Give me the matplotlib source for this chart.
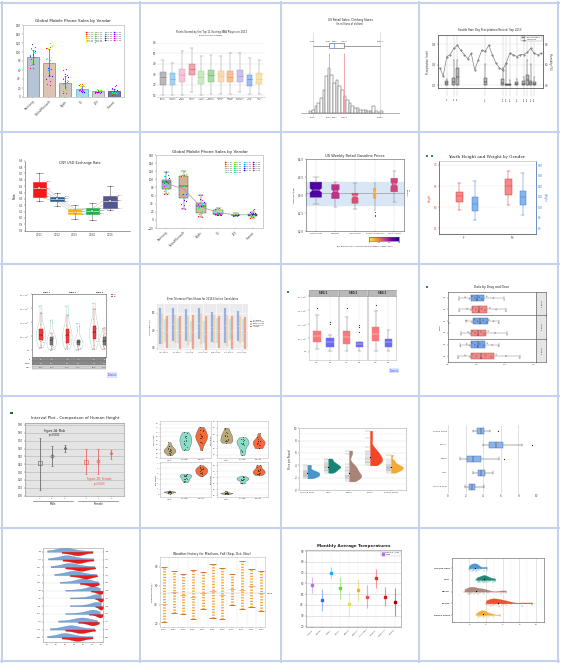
import numpy as np
import matplotlib
matplotlib.use('Agg')
import matplotlib.pyplot as plt
from matplotlib.lines import Line2D
from matplotlib.patches import Rectangle, Patch
from matplotlib import colors as mcolors

plt.rcParams['font.family'] = ['DejaVu Sans']
plt.rcParams['axes.linewidth'] = 0.4
plt.rcParams['xtick.major.width'] = 0.3
plt.rcParams['ytick.major.width'] = 0.3
plt.rcParams['xtick.major.size'] = 1.0
plt.rcParams['ytick.major.size'] = 1.0
plt.rcParams['xtick.major.pad'] = 0.6
plt.rcParams['ytick.major.pad'] = 0.6
plt.rcParams['xtick.labelsize'] = 2.0
plt.rcParams['ytick.labelsize'] = 2.0
plt.rcParams['axes.labelsize'] = 2.0
plt.rcParams['axes.labelpad'] = 1
plt.rcParams['axes.edgecolor'] = '#555555'
plt.rcParams['xtick.color'] = '#444444'
plt.rcParams['ytick.color'] = '#444444'
plt.rcParams['text.color'] = '#222222'
plt.rcParams['axes.labelcolor'] = '#222222'

# ===================== DATA =====================
# A / F : global mobile phone sales (millions) by quarter
vendors = ['Samsung', 'Nokia/Microsoft', 'Apple', 'LG', 'ZTE', 'Huawei']
quarters = ["Q1 '10", "Q2 '10", "Q3 '10", "Q4 '10", "Q1 '11", "Q2 '11", "Q3 '11", "Q4 '11",
            "Q1 '12", "Q2 '12", "Q3 '12", "Q4 '12", "Q1 '13", "Q2 '13", "Q3 '13", "Q4 '13",
            "Q1 '14", "Q2 '14", "Q3 '14", "Q4 '14", "Q1 '15", "Q2 '15"]
samsung_sales = [65, 64, 71, 76, 68, 70, 78, 97, 87, 94, 98, 107, 100, 108, 111, 117, 103, 95, 92, 93, 84, 90]
nokia_sales = [108, 111, 110, 120, 108, 89, 106, 113, 83, 84, 83, 86, 62, 61, 63, 64, 47, 50, 40, 36, 30, 27]
apple_sales = [9, 8, 14, 16, 17, 20, 17, 35, 33, 29, 23, 43, 38, 31, 34, 51, 44, 35, 39, 62, 61, 48]
lg_sales = [27, 30, 28, 27, 25, 24, 21, 17, 14, 13, 14, 16, 15, 17, 12, 13, 12, 12, 15, 16, 15, 14]
zte_sales = [10, 11, 12, 13, 14, 16, 17, 16, 15, 13, 12, 13, 12, 10, 10, 11, 11, 11, 12, 11, 11, 12]
huawei_sales = [5, 6, 7, 8, 9, 10, 10, 11, 12, 11, 11, 12, 11, 10, 11, 14, 16, 17, 20, 24, 18, 26]

# B : NBA points per game (box summaries)
nba_players = ['Kevin\nDurant', 'Carmelo\nAnthony', 'Kobe\nBryant', 'LeBron\nJames', 'James\nHarden',
               'Russell\nWestbrook', 'Stephen\nCurry', 'Dwyane\nWade', 'LaMarcus\nAldridge',
               'Kyrie\nIrving', 'Monta\nEllis']
nba_q1 = [19.3, 19.9, 22.3, 29.1, 20.8, 23.0, 22.3, 22.3, 22.3, 18.6, 20.8]
nba_med = [27.0, 25.4, 29.1, 35.0, 27.0, 29.1, 27.9, 27.0, 27.9, 25.4, 25.4]
nba_q3 = [32.2, 31.0, 34.7, 40.0, 33.1, 34.0, 33.1, 33.1, 34.0, 29.1, 31.6]
nba_lo = [10.0, 10.0, 10.0, 13.0, 10.0, 11.5, 11.5, 11.5, 13.0, 11.5, 11.5]
nba_hi = [44.0, 40.9, 51.7, 55.4, 47.0, 48.6, 47.0, 50.1, 50.1, 45.5, 44.0]

# C : clothing store sales histogram
clothing_bin_start = 6000
clothing_bin_width = 400
clothing_counts = [1, 2, 4, 6, 9, 14, 22, 27, 23, 18, 20, 16, 14, 10, 8, 6, 4, 3, 3, 2, 2, 2, 1, 1, 4, 1, 0, 1]
clothing_summary = [6500, 9000, 9800, 11300, 16800]   # min, q1, median, q3, max

# D : Seattle September 2013
sea_days = list(range(1, 31))
sea_humidity = [57, 49, 68, 70, 76, 79, 74, 70, 66, 71, 55, 65, 74, 73, 79,
                70, 62, 57, 55, 62, 71, 70, 68, 70, 70, 72, 76, 71, 70, 71]
rain_days = [3, 5, 6, 14, 19, 20, 21, 23, 25, 26, 27, 28]
rain_q1 = [0.006, 0.006, 0.006, 0.0, 0.0, 0.0, 0.0, 0.0, 0.0, 0.0, 0.0, 0.0]
rain_med = [0.02, 0.03, 0.08, 0.03, 0.02, 0.005, 0.005, 0.01, 0.01, 0.05, 0.02, 0.01]
rain_q3 = [0.04, 0.07, 0.17, 0.07, 0.065, 0.015, 0.015, 0.03, 0.04, 0.10, 0.04, 0.03]
rain_hi = [0.06, 0.25, 0.25, 0.21, 0.17, 0.21, 0.05, 0.06, 0.08, 0.25, 0.21, 0.08]

# E : CNY / USD
cny_years = [2011, 2012, 2013, 2014, 2015]
cny_q1 = [6.33, 6.26, 6.06, 6.07, 6.15]
cny_med = [6.47, 6.30, 6.10, 6.11, 6.27]
cny_q3 = [6.57, 6.33, 6.14, 6.15, 6.35]
cny_lo = [6.27, 6.19, 5.98, 5.97, 6.12]
cny_hi = [6.70, 6.39, 6.20, 6.23, 6.51]

# G : gasoline prices
gas_regions = ['East Coast', 'Midwest', 'Gulf Coast', 'Rocky Mountain', 'West Coast']
gas_q1 = [2.94, 2.90, 2.77, 2.91, 3.09]
gas_med = [3.13, 3.10, 2.96, 3.08, 3.30]
gas_q3 = [3.36, 3.29, 3.05, 3.19, 3.47]
gas_lo = [2.76, 2.66, 2.60, 2.58, 2.81]
gas_hi = [3.50, 3.37, 3.33, 3.33, 3.68]
gas_ci = [0.06, 0.06, 0.05, 0.05, 0.06]
gas_outliers = [[], [], [], [2.52, 2.45, 2.40], []]
gas_counts = [520, 340, 280, 120, 300]
gas_band = [2.73, 3.37]
gas_mean = 3.05

# H : youth height & weight
height_f = [57.0, 57.3, 59.4, 60.5, 61.2, 61.7, 62.0, 62.3, 62.5, 62.8, 63.0, 63.2, 63.5, 63.7, 64.2, 64.8, 65.3, 65.8]
height_m = [56.5, 56.9, 60.6, 62.0, 62.8, 63.2, 63.8, 64.5, 64.8, 65.2, 65.6, 66.0, 66.3, 66.8, 67.2, 67.8, 68.3, 68.6]
weight_f = [76, 78, 82, 88, 92, 95, 98, 102, 105, 108, 112, 115, 118, 121, 123, 130, 140, 150]
weight_m = [85, 90, 95, 100, 104, 107, 110, 114, 117, 120, 123, 126, 128, 132, 140, 150, 165, 172]

# I / K : SBG groups (thousands)
sbg1_cg = [9, 20, 30, 34, 36, 45, 52, 56, 60, 66, 72, 76, 95, 132, 159]
sbg1_wi = [2, 8, 12, 17, 19, 25, 30, 35, 38, 42, 47, 51, 60, 102, 108]
sbg2_cg = [5, 15, 22, 26, 28, 40, 48, 55, 60, 66, 72, 76, 90, 124, 159]
sbg2_wi = [2, 6, 10, 16, 19, 22, 26, 29, 31, 33, 34, 36, 73, 88, 96]
sbg3_cg = [3, 20, 32, 38, 42, 50, 58, 66, 72, 80, 86, 90, 110, 148, 168]
sbg3_wi = [3, 8, 14, 17, 20, 26, 30, 34, 38, 42, 46, 50, 55, 62, 80]

# J : polls
poll_dates = ['Apr 2016', 'Jun 2016', 'Jul 2016', 'Aug 2016', 'Sep 2016', 'Oct 2016', 'Nov 2016']
candidates = ['Hillary Clinton', 'Donald Trump', 'Gary Johnson', 'Jill Stein']
clinton_mid = [42.5, 43.5, 43.0, 44.0, 42.0, 43.0, 42.5]
clinton_err = [10.5, 9.5, 9.0, 9.0, 8.5, 10.0, 8.5]
trump_mid = [41.0, 41.0, 40.0, 41.0, 41.0, 40.0, 40.5]
trump_err = [9.0, 8.0, 8.5, 9.0, 8.0, 9.0, 8.0]
johnson_mid = [40.0, 40.0, 39.5, 39.0, 40.0, 40.5, 40.0]
johnson_err = [6.5, 7.0, 6.0, 6.5, 7.0, 6.0, 6.5]
stein_mid = [39.0, 38.5, 39.0, 38.0, 39.0, 39.0, 38.5]
stein_err = [9.0, 9.5, 10.0, 10.5, 9.0, 9.5, 9.0]

# L : drug / dose
drug1_dose05 = [0.70, 0.84, 0.90, 0.93, 0.99, 1.04, 1.09, 1.15, 1.24, 1.35, 1.52]
drug1_dose15 = [0.69, 0.80, 0.88, 0.92, 0.97, 1.01, 1.05, 1.10, 1.18, 1.30, 1.49]
drug2_dose05 = [0.73, 0.85, 0.89, 0.93, 0.98, 1.03, 1.08, 1.14, 1.21, 1.33, 1.54]
drug2_dose15 = [0.52, 0.82, 0.92, 0.96, 1.02, 1.07, 1.12, 1.18, 1.22, 1.30, 1.39]
drug3_dose05 = [0.68, 0.80, 0.89, 0.93, 1.00, 1.08, 1.16, 1.26, 1.35, 1.52, 1.76]
drug3_dose15 = [0.72, 0.83, 0.88, 0.92, 0.97, 1.02, 1.06, 1.12, 1.19, 1.28, 1.39]

# M : interval plot heights (cm)
male_mean = [141, 150, 161]
male_low = [107, 138, 156]
male_high = [174, 163, 165]
female_mean = [143, 144.5, 154]
female_low = [127, 127, 147]
female_high = [160, 160, 158]

# N : iris
setosa_sl = [5.1, 4.9, 4.7, 4.6, 5.0, 5.4, 4.6, 5.0, 4.4, 4.9, 5.4, 4.8, 4.8, 4.3, 5.8]
setosa_sw = [3.5, 3.0, 3.2, 3.1, 3.6, 3.9, 3.4, 3.4, 2.9, 3.1, 3.7, 3.4, 3.0, 3.0, 4.0]
setosa_pl = [1.4, 1.4, 1.3, 1.5, 1.4, 1.7, 1.4, 1.5, 1.4, 1.5, 1.5, 1.6, 1.4, 1.1, 1.2]
setosa_pw = [0.2, 0.2, 0.2, 0.2, 0.2, 0.4, 0.3, 0.2, 0.2, 0.1, 0.2, 0.2, 0.1, 0.1, 0.2]
versicolor_sl = [7.0, 6.4, 6.9, 5.5, 6.5, 5.7, 6.3, 4.9, 6.6, 5.2, 5.0, 5.9, 6.0, 6.1, 5.6]
versicolor_sw = [3.2, 3.2, 3.1, 2.3, 2.8, 2.8, 3.3, 2.4, 2.9, 2.7, 2.0, 3.0, 2.2, 2.9, 2.9]
versicolor_pl = [4.7, 4.5, 4.9, 4.0, 4.6, 4.5, 4.7, 3.3, 4.6, 3.9, 3.5, 4.2, 4.0, 4.7, 3.6]
versicolor_pw = [1.4, 1.5, 1.5, 1.3, 1.5, 1.3, 1.6, 1.0, 1.3, 1.4, 1.0, 1.5, 1.0, 1.4, 1.3]
virginica_sl = [6.3, 5.8, 7.1, 6.3, 6.5, 7.6, 4.9, 7.3, 6.7, 7.2, 6.5, 6.4, 6.8, 5.7, 5.8]
virginica_sw = [3.3, 2.7, 3.0, 2.9, 3.0, 3.0, 2.5, 2.9, 2.5, 3.6, 3.2, 2.7, 3.0, 2.5, 2.8]
virginica_pl = [6.0, 5.1, 5.9, 5.6, 5.8, 6.6, 4.5, 6.3, 5.8, 6.1, 5.1, 5.3, 5.5, 5.0, 5.1]
virginica_pw = [2.5, 1.9, 2.1, 1.8, 2.2, 2.1, 1.7, 1.8, 1.8, 2.5, 2.0, 1.9, 2.1, 2.0, 2.4]

# O / P / T : meat prices per pound
meats = ['Ground beef', 'Ham', 'Bacon', 'Sirloin', 'Round Steak']
ground_beef = [1.9, 2.1, 2.2, 2.3, 2.4, 2.5, 2.6, 2.7, 2.8, 2.9, 3.0, 3.1, 3.4, 3.8, 4.1]
ham = [2.8, 3.0, 3.2, 3.3, 3.5, 3.6, 3.7, 3.8, 3.9, 4.0, 4.2, 4.3, 4.5, 4.8, 5.1]
bacon = [1.4, 1.8, 2.0, 2.1, 2.2, 2.3, 2.5, 2.8, 3.0, 3.3, 3.6, 3.8, 4.2, 5.8, 6.4]
sirloin = [4.0, 4.3, 4.5, 4.6, 4.8, 5.0, 5.2, 5.4, 5.6, 5.9, 6.2, 6.4, 7.0, 8.4, 9.6]
round_steak = [2.8, 3.0, 3.2, 3.3, 3.4, 3.5, 3.6, 3.7, 3.8, 3.9, 4.0, 4.2, 4.5, 4.8, 5.7]

# Q : monthly temperatures (low / high samples)
months = ['Jan', 'Feb', 'Mar', 'Apr', 'May', 'Jun', 'Jul', 'Aug', 'Sep', 'Oct', 'Nov', 'Dec']
temp_low = [[30, 40, 46, 48, 50, 53, 58, 66, 80], [31, 41, 47, 50, 52, 55, 60, 68, 81],
            [34, 44, 50, 53, 55, 58, 63, 70, 82], [38, 48, 54, 57, 59, 62, 66, 72, 84],
            [44, 55, 62, 66, 68, 71, 74, 78, 86], [50, 62, 70, 75, 78, 80, 82, 84, 88],
            [55, 66, 74, 79, 82, 84, 86, 87, 89], [55, 66, 74, 79, 82, 84, 86, 87, 89],
            [50, 62, 70, 75, 78, 80, 82, 84, 88], [42, 53, 60, 64, 67, 70, 73, 77, 85],
            [33, 44, 50, 54, 56, 59, 63, 70, 82], [30, 40, 46, 48, 50, 53, 58, 66, 80]]
temp_high = [[46, 53, 58, 61, 63, 65, 68, 72, 80], [47, 54, 59, 62, 64, 66, 69, 73, 81],
             [50, 57, 62, 65, 67, 69, 72, 76, 83], [55, 62, 67, 70, 72, 74, 76, 79, 85],
             [66, 71, 75, 77, 79, 80, 82, 84, 87], [78, 82, 84, 86, 87, 88, 89, 90, 91],
             [83, 86, 87, 88, 89, 89, 90, 91, 92], [83, 86, 87, 88, 89, 89, 90, 91, 92],
             [76, 81, 84, 86, 87, 88, 89, 90, 91], [64, 70, 74, 77, 79, 80, 82, 84, 87],
             [50, 57, 62, 65, 67, 69, 72, 76, 83], [46, 53, 58, 61, 63, 65, 68, 72, 80]]

# R : Madison fall temps
madison_years = ['2003', '2004', '2005', '2006', '2007', '2008', '2009', '2010', '2011', '2012', '2013']
madison_max = [80.4, 76.1, 72.6, 77.2, 75.1, 83.2, 79.0, 72.6, 86.7, 77.9, 76.1]
madison_min = [21.8, 31.6, 30.5, 25.3, 35.8, 26.3, 24.6, 39.3, 35.1, 37.5, 33.0]
madison_mean = [41, 53, 50, 48, 52, 55, 50, 57, 56, 60, 52]

# S : monthly average temperatures by city
temp_cities = ['Atlanta', 'Boston', 'Miami', 'Dallas', 'Denver', 'Houston',
               'Las Vegas', 'Phoenix', 'New York', 'Seattle']
temp_mean = [58.6, 44.7, 70.0, 55.5, 40.7, 54.0, 47.8, 64.8, 47.8, 42.5]
temp_std = [7.7, 10.5, 5.0, 10.0, 12.0, 10.0, 11.0, 9.0, 9.0, 13.0]

# ===================== FIGURE =====================
W, H = 562, 663
fig = plt.figure(figsize=(W / 100, H / 100), dpi=100)
fig.patch.set_facecolor('white')


def add_ax(x0, y0, x1, y1, **kw):
    return fig.add_axes([x0 / W, 1 - y1 / H, (x1 - x0) / W, (y1 - y0) / H], **kw)


def ftext(x, y, s, **kw):
    kw.setdefault('ha', 'center')
    kw.setdefault('va', 'center')
    return fig.text(x / W, 1 - y / H, s, **kw)


def fsquare(x, y, s, color):
    fig.add_artist(Rectangle((x / W, 1 - (y + s) / H), s / W, s / H, transform=fig.transFigure,
                             facecolor=color, edgecolor='none'))


def draw_boxes(ax, data, positions, faces, widths=0.5, orientation='vertical', lw=0.3,
               edges=None, med='k', alpha=1.0, stats=False, notch=False, fliers=True,
               flier_ms=0.8, zorder=2, wcolor='#444444'):
    kw = dict(positions=positions, widths=widths, orientation=orientation, patch_artist=True,
              manage_ticks=False, zorder=zorder,
              medianprops=dict(color=med, lw=lw), whiskerprops=dict(color=wcolor, lw=lw),
              capprops=dict(color=wcolor, lw=lw), boxprops=dict(lw=lw),
              flierprops=dict(marker='o', ms=flier_ms, mfc='#222222', mec='none'))
    if stats:
        bp = ax.bxp(data, shownotches=notch, showfliers=fliers, **kw)
    else:
        bp = ax.boxplot(data, notch=notch, showfliers=fliers, **kw)
    for i, b in enumerate(bp['boxes']):
        b.set_facecolor(mcolors.to_rgba(faces[i % len(faces)], alpha))
        b.set_edgecolor(edges[i % len(edges)] if edges else '#333333')
    return bp


def mkstats(q1, med, q3, lo, hi, fl=None, ci=None):
    out = []
    for i in range(len(q1)):
        d = dict(q1=q1[i], med=med[i], q3=q3[i], whislo=lo[i], whishi=hi[i],
                 fliers=(fl[i] if fl else []))
        if ci is not None:
            d['cilo'] = med[i] - ci[i]
            d['cihi'] = med[i] + ci[i]
        out.append(d)
    return out


# ---- grid borders
bc = '#c3d2ee'
for xv in [2, 140, 281, 419, 558]:
    fig.add_artist(Line2D([xv / W, xv / W], [1 - 2 / H, 0], transform=fig.transFigure, color=bc, lw=1.45))
for yv in [3, 132, 264, 396, 528, 661]:
    fig.add_artist(Line2D([1 / W, 559 / W], [1 - yv / H, 1 - yv / H], transform=fig.transFigure, color=bc, lw=1.45))

sales_all = [samsung_sales, nokia_sales, apple_sales, lg_sales, zte_sales, huawei_sales]
sales_mean = [np.mean(s) for s in sales_all]
sales_std = [np.std(s) for s in sales_all]
xa = np.arange(len(vendors))
qcol = plt.cm.hsv(np.linspace(0, 0.9, len(quarters)))
jit = ((np.arange(len(quarters)) * 5) % 9 - 4) * 0.04


def sales_points(ax):
    for qi, q in enumerate(quarters):
        ax.scatter(xa + jit[qi], [s[qi] for s in sales_all], s=0.7, color=qcol[qi], lw=0, zorder=4, label=q)
    ax.legend(ncol=4, loc='upper right', bbox_to_anchor=(0.99, 0.93), frameon=False, fontsize=1.4,
              handlelength=0.4, handletextpad=0.3, columnspacing=0.9, labelspacing=0.3,
              markerscale=1.3, borderpad=0.2)


# ---------------- A: bar chart
ax = add_ax(23, 25, 124, 97)
bar_colors = ['#b4c4d6', '#dcc3b2', '#cbc6b9', '#a9dbef', '#d2d2d2', '#6e7ca4']
bar_edges = ['#6a84a6', '#a87c68', '#8a8578', '#5aa9cc', '#8a8a8a', '#3b4670']
ax.bar(xa, sales_mean, width=0.72, color=bar_colors, edgecolor=bar_edges, linewidth=0.5, zorder=1)
ax.errorbar(xa, sales_mean, yerr=sales_std, fmt='none', ecolor='#2b4aa8', elinewidth=0.45,
            capsize=1.0, capthick=0.45, zorder=2)
sales_points(ax)
ax.set_xlim(-0.6, 5.6)
ax.set_ylim(0, 160)
ax.set_yticks(range(0, 161, 20))
ax.set_xticks(xa)
ax.set_xticklabels(vendors, rotation=45, ha='right', rotation_mode='anchor', fontsize=2.0)
for s in ax.spines.values():
    s.set_color('#aaaaaa')
ftext(73, 21, 'Global Mobile Phone Sales by Vendor', fontsize=3)

# ---------------- B: NBA boxes
ax = add_ax(157, 42.7, 265, 97.3)
nba_colors = ['#8c8c8c', '#6fb7e6', '#e9a3c0', '#e0707a', '#a8dba0', '#73c36e',
              '#f4c58c', '#ee9b5a', '#a99ee0', '#5a94e6', '#f1d27a']
xb = np.arange(1, len(nba_players) + 1)
bp = draw_boxes(ax, mkstats(nba_q1, nba_med, nba_q3, nba_lo, nba_hi), xb, nba_colors,
                widths=0.6, stats=True, alpha=0.6, edges=nba_colors, lw=0.35, wcolor='#999999')
for i, m in enumerate(bp['medians']):
    m.set_color(nba_colors[i])
    m.set_linewidth(0.6)
ax.set_xlim(0.4, 11.6)
ax.set_ylim(8, 60)
ax.set_yticks(range(10, 61, 10))
ax.grid(axis='y', color='#dddddd', lw=0.3)
ax.set_axisbelow(True)
for k in ['top', 'right', 'left']:
    ax.spines[k].set_visible(False)
ax.spines['bottom'].set_color('#bbbbbb')
ax.set_xticks(xb)
ax.set_xticklabels(nba_players, fontsize=1.3, linespacing=0.9)
ax.tick_params(axis='both', length=0)
ftext(211, 31.5, 'Points Scored by the Top 11 Scoring NBA Players in 2013', fontsize=1.8)
ftext(211, 35, 'Each point is a game', fontsize=1.6)

# ---------------- C: histogram with box
ax = add_ax(296, 30, 404, 120)
ax.set_xlim(3955, 20412)
ax.set_ylim(-4.2, 49.8)
ax.axis('off')
cmin, cq1, cmed, cq3, cmax = clothing_summary
left_edges = clothing_bin_start + clothing_bin_width * np.arange(len(clothing_counts))
ax.vlines([cmin, cmax], -2.4, 48.6, color='#c8c8c8', lw=0.4, zorder=0)
ax.vlines([cq1, cq3], 0, 36, color='#f29a9a', lw=0.6, zorder=3)
ax.bar(left_edges, clothing_counts, width=clothing_bin_width, align='edge', color='white',
       edgecolor='#555555', lw=0.35, zorder=2)
ax.plot([4700, 19600], [0, 0], color='#777777', lw=0.4, zorder=1)
ax.add_patch(Rectangle((cq1, 38.8), cq3 - cq1, 3.2, facecolor='white', edgecolor='#555555', lw=0.4, zorder=3))
ax.plot([cmin, cq1], [40.4, 40.4], color='#555555', lw=0.4)
ax.plot([cq3, cmax], [40.4, 40.4], color='#555555', lw=0.4)
ax.plot([cmed, cmed], [38.8, 42.0], color='#6f9ff0', lw=0.6, zorder=4)
for v in clothing_summary:
    ax.text(v, -2.6, f'{v}', fontsize=1.5, ha='center', va='top', color='#444444')
    ax.text(v, 42.6, f'{v}', fontsize=1.5, ha='center', va='bottom', color='#444444')
ftext(350, 19.5, 'US Retail Sales: Clothing Stores', fontsize=2.1)
ftext(350, 24, '(in millions of dollars)', fontsize=1.8)

# ---------------- D: Seattle
ax = add_ax(438, 35, 543, 88)
ax.set_xlim(0.5, 30.5)
ax.set_ylim(-0.025, 0.49)
ax.vlines(rain_days, -0.1, 0.49, color='#c8c8c8', lw=0.35, clip_on=False, zorder=0)
for yv in [0, 0.2, 0.4]:
    ax.axhline(yv, color='#dddddd', lw=0.3, zorder=0)
draw_boxes(ax, mkstats(rain_q1, rain_med, rain_q3, rain_q1, rain_hi), rain_days, ['#b3b3b3'],
           widths=0.8, stats=True, lw=0.3)
ax.set_xticks([])
ax.set_yticks([0, 0.2, 0.4])
ax.set_yticklabels(['0.0', '0.2', '0.4'])
for d in rain_days:
    ax.text(d, -0.115, f'9/{d}', rotation=90, fontsize=1.3, ha='center', va='top', clip_on=False)
ax.set_ylabel('Precipitation (inch)', fontsize=1.8)
ax2 = ax.twinx()
ax2.plot(sea_days, sea_humidity, color='#777777', lw=0.45, marker='o', ms=0.5, zorder=5)
ax2.set_ylim(37.4, 89)
ax2.set_yticks([40, 60, 80])
ax2.set_ylabel('Humidity (%)', fontsize=1.8, rotation=270, labelpad=2.5)
ax.legend(handles=[Patch(facecolor='#b3b3b3', edgecolor='#444444', lw=0.3, label='Precipitation'),
                   Line2D([], [], color='#777777', marker='o', ms=0.5, lw=0.4, label='Humidity')],
          loc='upper right', fontsize=1.6, frameon=True, fancybox=False, edgecolor='#888888',
          handlelength=1.5, borderpad=0.3, labelspacing=0.2).get_frame().set_linewidth(0.3)
ftext(490, 30.5, 'Seattle Rain Day Precipitation Record, Sep 2013', fontsize=1.9)

# ---------------- E: CNY
ax = add_ax(25, 160.7, 130, 230.7)
cny_colors = ['#f21a1a', '#2e5f8f', '#f7b500', '#22b24c', '#56568f']
for k in [cny_q1, cny_med, cny_q3]:
    ax.plot(cny_years, k, color='#b0b0b0', lw=0.3, zorder=1)
draw_boxes(ax, mkstats(cny_q1, cny_med, cny_q3, cny_lo, cny_hi), cny_years, cny_colors,
           widths=0.75, stats=True, edges=cny_colors, med='white', lw=0.4, wcolor='#666666')
ax.scatter(cny_years, cny_med, s=0.8, marker='s', facecolor='white', edgecolor='#333333', lw=0.2, zorder=5)
ax.scatter(cny_years, cny_hi, s=0.6, color='#444444', lw=0, zorder=5)
ax.scatter(cny_years, cny_lo, s=0.6, color='#444444', lw=0, zorder=5)
for i, yv in enumerate(cny_years):
    for v in [cny_q3[i], cny_med[i], cny_q1[i]]:
        ax.text(yv + 0.42, v, f'{v:.3f}', fontsize=1.2, va='center', ha='left', color='#444444')
ax.set_xlim(2010.19, 2016.13)
ax.set_ylim(5.8, 6.9)
ax.set_yticks(np.round(np.arange(5.8, 6.95, 0.1), 1))
ax.set_yticklabels([f'{v:.1f}' for v in np.arange(5.8, 6.95, 0.1)])
ax.set_xticks(cny_years)
ax.set_xticklabels([str(y) for y in cny_years])
ax.spines['top'].set_visible(False)
ax.spines['right'].set_visible(False)
ax.set_ylabel('Rate', fontsize=2.2)
ax.text(2013.3, 6.86, 'CNY USD Exchange Rate', ha='center', va='center', fontsize=2.4)

# ---------------- F: box plots of sales
ax = add_ax(156, 155, 263, 228)
box_colors = ['#8ea8c6', '#c9a189', '#bab4a0', '#a0d7ee', '#c9c9c9', '#4d5883']
draw_boxes(ax, sales_all, xa, box_colors, widths=0.55, fliers=False, alpha=0.85, lw=0.35,
           edges=['#555555'])
ax.plot(xa, sales_mean, color='#9a9a9a', lw=0.5, zorder=3)
sales_points(ax)
ax.set_xlim(-0.6, 5.6)
ax.set_ylim(-20, 160)
ax.set_yticks(range(-20, 161, 20))
ax.set_xticks(xa)
ax.set_xticklabels(vendors, rotation=45, ha='right', rotation_mode='anchor', fontsize=2.0)
for s in ax.spines.values():
    s.set_color('#aaaaaa')
ftext(210, 151.5, 'Global Mobile Phone Sales by Vendor', fontsize=3)

# ---------------- G: gasoline
ax = add_ax(306, 159.3, 404, 230.7)
ax.axhspan(gas_band[0], gas_band[1], color='#d8e6f6', zorder=0)
ax.axhline(gas_mean, color='#8a8a8a', lw=0.4, zorder=1)
xg = np.arange(1, 6)
ax.vlines(xg, 2.0, 4.0, colors='#bbbbbb', linestyles=(0, (2, 2)), lw=0.3, zorder=0)
gnorm = mcolors.Normalize(0, 600)
gas_cols = [plt.cm.plasma_r(gnorm(c)) for c in gas_counts]
gas_w = [0.00112 * c for c in gas_counts]
draw_boxes(ax, mkstats(gas_q1, gas_med, gas_q3, gas_lo, gas_hi, gas_outliers, gas_ci), xg, gas_cols,
           widths=gas_w, stats=True, notch=True, edges=gas_cols, med='white', lw=0.35,
           wcolor='#888888', flier_ms=0.7)
ax.set_xlim(0.5, 5.5)
ax.set_ylim(2.0, 4.0)
ax.set_yticks([2.0, 2.5, 3.0, 3.5, 4.0])
ax.set_yticklabels(['$2.0', '$2.5', '$3.0', '$3.5', '$4.0'])
ax.set_xticks(xg)
ax.set_xticklabels(gas_regions, fontsize=1.6)
ax.set_ylabel('Gasoline $/gal', fontsize=1.6)
ax.text(5.6, gas_mean, 'U.S.\nAverage', rotation=270, fontsize=1.3, va='center', ha='left', clip_on=False)
ftext(355, 156, 'US Weekly Retail Gasoline Prices', fontsize=2.6)
cax = add_ax(369, 237, 399, 240.5)
cax.imshow(np.linspace(0, 600, 100)[None, :], aspect='auto', cmap='plasma_r', extent=(0, 600, 0, 1))
cax.set_yticks([])
cax.set_xticks([0, 200, 400, 600])
cax.tick_params(labelsize=1.2, length=0.6, pad=0.3)
ftext(365, 246, 'Box width and color indicate number of stations in each region', fontsize=1.3)

# ---------------- H: youth
fsquare(426, 154.5, 2.2, '#2e8b57')
fsquare(430.5, 154.5, 2.2, '#2e8b57')
ax = add_ax(439, 160.7, 536, 234)
ax.set_xlim(0.5, 2.5)
ax.set_ylim(53.65, 71.0)
ax.set_yticks([55, 60, 65, 70])
ax.grid(axis='y', color='#dddddd', lw=0.3, linestyle='--')
ax2 = ax.twinx()
ax2.set_ylim(49.3, 188.2)
ax2.set_yticks(range(60, 181, 20))
draw_boxes(ax, [height_f, height_m], [0.92, 1.93], ['#f58a8a'], widths=0.13, edges=['#e03a3a'],
           lw=0.35, wcolor='#e03a3a', fliers=False, med='#e03a3a')
draw_boxes(ax2, [weight_f, weight_m], [1.24, 2.23], ['#86b4ef'], widths=0.13, edges=['#3a80e0'],
           lw=0.35, wcolor='#3a80e0', fliers=False, med='#3a80e0')
hx = ((np.arange(len(height_f)) * 7) % 10) * 0.016
ax.scatter(0.78 + hx, height_f, s=0.5, marker='s', color='#ee4444', lw=0, zorder=5)
ax.scatter(1.79 + hx, height_m, s=0.5, marker='s', color='#ee4444', lw=0, zorder=5)
ax2.scatter(1.10 + hx, weight_f, s=0.5, marker='s', color='#3a80e0', lw=0, zorder=5)
ax2.scatter(2.09 + hx, weight_m, s=0.5, marker='s', color='#3a80e0', lw=0, zorder=5)
ax.set_xticks([1, 2])
ax.set_xticklabels(['F', 'M'])
ax.spines['left'].set_color('#e04040')
ax2.spines['right'].set_color('#4a8ae0')
ax.tick_params(axis='y', colors='#e04040')
ax2.tick_params(axis='y', colors='#4a8ae0')
ax.set_ylabel('Height', color='#e04040', fontsize=1.8)
ax2.set_ylabel('Weight', color='#4a8ae0', fontsize=1.8, rotation=270, labelpad=2.5)
for a in (ax, ax2):
    a.spines['top'].set_color('#cccccc')
ftext(487, 157, 'Youth Height and Weight by Gender', fontsize=3, family='DejaVu Serif')

# ---------------- I: SBG violins + boxes + table
sbg_data = [sbg1_cg, sbg1_wi, sbg2_cg, sbg2_wi, sbg3_cg, sbg3_wi]
sbg_vals = [np.array(d) * 1000 for d in sbg_data]
ax = add_ax(32, 294, 106, 357)
sbg_pos = [0.85, 1.86, 3.34, 4.38, 5.89, 6.84]
vp = ax.violinplot(sbg_vals, positions=sbg_pos, widths=0.9, showextrema=False)
for b in vp['bodies']:
    b.set_facecolor('none')
    b.set_edgecolor('#9fcfbf')
    b.set_linewidth(0.3)
    b.set_alpha(1)
for i, d in enumerate(sbg_vals):
    ax.scatter(sbg_pos[i] - 0.2 + ((np.arange(len(d)) * 3) % 7) * 0.06, d, s=0.3, color='#6fbf9f', lw=0, zorder=1)
draw_boxes(ax, sbg_vals, sbg_pos, ['#f23a3a', '#7a7a7a'], widths=0.3, lw=0.3, fliers=False,
           edges=['#c01010', '#444444'], wcolor='#d04040')
ax.set_xlim(0, 7)
ax.set_ylim(-23700, 200000)
ax.set_yticks([0, 50000, 100000, 150000, 200000])
ax.set_yticklabels(['0.0', r'$5.0\times10^4$', r'$1.0\times10^5$', r'$1.5\times10^5$', r'$2.0\times10^5$'], fontsize=1.4)
ax.set_xticks([])
for i, lbl in enumerate(['SBG 1', 'SBG 2', 'SBG 3']):
    ax.text((sbg_pos[2 * i] + sbg_pos[2 * i + 1]) / 2, 203000, lbl, fontsize=1.5, ha='center', va='bottom',
            fontweight='bold', clip_on=False)
ax.legend(handles=[Patch(facecolor='#f23a3a', label='CG'), Patch(facecolor='#7a7a7a', label='WI')],
          loc='upper left', bbox_to_anchor=(1.05, 1.02), fontsize=1.2, frameon=False,
          handlelength=0.8, handleheight=0.5, labelspacing=0.2)
tax = add_ax(32, 357, 106, 369.5)
tax.set_xlim(0, 7)
tax.set_ylim(0, 3)
tax.axis('off')
row_names = ['N', 'Median', 'Mean']
row_vals = [[f'{len(d)}' for d in sbg_vals],
            [f'{np.median(d) / 1000:.0f}k' for d in sbg_vals],
            [f'{np.mean(d) / 1000:.1f}k' for d in sbg_vals]]
row_cols = ['#8a8a8a', '#8a8a8a', '#d3d3d3']
for r in range(3):
    yb = 2 - r
    tax.add_patch(Rectangle((0, yb + 0.05), 7, 0.9, facecolor=row_cols[r], edgecolor='#666666', lw=0.2))
    tax.text(-0.15, yb + 0.5, row_names[r], fontsize=1.2, ha='right', va='center', clip_on=False)
    for i in range(6):
        tax.text(sbg_pos[i], yb + 0.5, row_vals[r][i], fontsize=1.1, ha='center', va='center',
                 color='white' if r < 2 else '#222222')
ftext(112, 375, 'Tutorial', fontsize=1.8, color='#3a3af0',
      bbox=dict(facecolor='#dde4ff', edgecolor='none', pad=0.4))

# ---------------- J: polls
ax = add_ax(157, 304, 248, 350)
ax.set_facecolor('#ebebeb')
ax.grid(color='white', lw=0.4)
ax.set_axisbelow(True)
for s in ax.spines.values():
    s.set_visible(False)
poll_cols = ['#4a86e8', '#f6c07d', '#a3dbe3', '#f06a48']
mids = [clinton_mid, trump_mid, johnson_mid, stein_mid]
errs = [clinton_err, trump_err, johnson_err, stein_err]
xj = np.arange(1, len(poll_dates) + 1)
for ci, off in enumerate([-0.27, -0.09, 0.09, 0.27]):
    ax.vlines(xj + off, np.array(mids[ci]) - np.array(errs[ci]), np.array(mids[ci]) + np.array(errs[ci]),
              color=poll_cols[ci], lw=1.6, alpha=0.55)
    ax.scatter(xj + off, mids[ci], s=0.8, color=poll_cols[ci], lw=0, zorder=3)
    ax.hlines(mids[ci], xj + off - 0.06, xj + off + 0.06, color='white', lw=0.4, zorder=4)
ax.set_xlim(0.5, 7.5)
ax.set_ylim(28.7, 55.1)
ax.set_yticks([30, 40, 50])
ax.set_xticks(xj)
ax.set_xticklabels(poll_dates, fontsize=1.4)
ax.tick_params(length=0.6)
ax.set_ylabel('Vote share (%)', fontsize=1.5)
ax.legend(handles=[Patch(facecolor=c, label=n) for c, n in zip(poll_cols, candidates)],
          loc='upper left', bbox_to_anchor=(1.01, 0.7), fontsize=1.2, frameon=False, title='Candidate',
          title_fontsize=1.3, handlelength=0.9, handleheight=0.6, labelspacing=0.3)
ftext(203, 299.5, 'Error Tolerance Plots Shows for 2016 Election Candidates', fontsize=1.8)

# ---------------- K: SBG facets
fsquare(286.8, 290.8, 2.3, '#2e8b57')
k_x = [(309.3, 337.7), (339.3, 366.7), (368.3, 396)]
sbg_pairs = [(sbg1_cg, sbg1_wi), (sbg2_cg, sbg2_wi), (sbg3_cg, sbg3_wi)]
for i, (x0, x1) in enumerate(k_x):
    ax = add_ax(x0, 296, x1, 360)
    vals = [np.array(sbg_pairs[i][0]) * 1000, np.array(sbg_pairs[i][1]) * 1000]
    draw_boxes(ax, vals, [1, 2], ['#f8797b', '#6a6af8'], widths=0.55, lw=0.3, edges=['#f8797b', '#6a6af8'],
               med='#ffffff', wcolor='#777777', flier_ms=0.8)
    ax.scatter([1, 2], [np.mean(v) for v in vals], s=0.5, marker='s', color='white', lw=0, zorder=5)
    ax.set_xlim(0.4, 2.6)
    ax.set_ylim(-29000, 201000)
    ax.set_xticks([1, 2])
    ax.set_xticklabels(['CG', 'WI'], fontsize=1.6)
    ax.set_yticks([0, 50000, 100000, 150000, 200000])
    ax.grid(axis='x', color='#e5e5e5', lw=0.3)
    for s in ax.spines.values():
        s.set_color('#bbbbbb')
    if i == 0:
        ax.set_yticklabels(['0.0', r'$5.0\times10^4$', r'$1.0\times10^5$', r'$1.5\times10^5$', r'$2.0\times10^5$'],
                           fontsize=1.4)
    else:
        ax.set_yticklabels([])
        ax.tick_params(axis='y', length=0)
    sax = add_ax(x0, 290, x1, 296)
    sax.set_facecolor('#b9b9b9')
    sax.set_xticks([])
    sax.set_yticks([])
    for s in sax.spines.values():
        s.set_color('#999999')
    sax.text(0.5, 0.5, f'SBG {i + 1}', fontsize=1.8, fontweight='bold', ha='center', va='center',
             transform=sax.transAxes)
ftext(394, 370.5, 'Tutorial', fontsize=1.8, color='#3a3af0',
      bbox=dict(facecolor='#dde4ff', edgecolor='none', pad=0.4))

# ---------------- L: drug / dose
fsquare(426, 286, 2.3, '#2e8b57')
ftext(492, 287, 'Data by Drug and Dose', fontsize=2.2)
drug_sets = [(drug1_dose05, drug1_dose15), (drug2_dose05, drug2_dose15), (drug3_dose05, drug3_dose15)]
l_rows = [(292, 315.3), (315.3, 338.7), (338.7, 362)]
for i, (y0, y1) in enumerate(l_rows):
    ax = add_ax(448, y0, 536, y1)
    lo, hi = drug_sets[i]
    draw_boxes(ax, [lo, hi], [0.5, 1.5], ['#f28a8a', '#78a6e8'], widths=0.55, orientation='horizontal',
               lw=0.35, edges=['#d04848', '#3a70c8'], wcolor='#888888', fliers=False, med='#333333')
    for dv, dd, mk in [(0.5, lo, 'o'), (1.5, hi, '^')]:
        jy = ((np.arange(len(dd)) * 3) % 5 - 2) * 0.07
        ax.scatter(dd, dv + jy, s=0.9, marker=mk, facecolor='none', edgecolor='#333333', lw=0.15, zorder=5)
    ax.set_xlim(0.5, 2.05)
    ax.set_ylim(0, 2)
    ax.set_yticks([0.5, 1.5])
    ax.set_yticklabels(['0.5', '1.5'], fontsize=1.5)
    ax.set_xticks([0.5, 1.0, 1.5, 2.0])
    if i < 2:
        ax.set_xticklabels([])
        ax.tick_params(axis='x', length=0)
    else:
        ax.set_xticklabels(['0.5', '1.0', '1.5', '2.0'], fontsize=1.6)
    for s in ax.spines.values():
        s.set_color('#444444')
    if i == 1:
        ax.set_ylabel('Dose', fontsize=1.6)
    sax = add_ax(536, y0, 546, y1)
    sax.set_facecolor('#e6e6e6')
    sax.set_xticks([])
    sax.set_yticks([])
    for s in sax.spines.values():
        s.set_color('#444444')
    sax.text(0.5, 0.5, f'Drug {i + 1}', fontsize=1.5, rotation=270, ha='center', va='center',
             transform=sax.transAxes)

# ---------------- M: interval plot
fsquare(10, 411.5, 2.6, '#2e5e3e')
ax = add_ax(25, 423, 124, 495.7)
ax.set_facecolor('#e4e4e4')
ax.set_ylim(100, 192.5)
ax.set_yticks(range(100, 191, 10))
ax.grid(axis='y', color='#bdbdbd', lw=0.5)
ax.set_axisbelow(True)
ax.set_xlim(0, 10)
male_x = [1.5, 2.7, 4.0]
female_x = [6.2, 7.4, 8.7]
mks = ['s', 'o', '*']
for i in range(3):
    ax.errorbar(male_x[i], male_mean[i], yerr=[[male_mean[i] - male_low[i]], [male_high[i] - male_mean[i]]],
                fmt=mks[i], color='#555555', mfc='none', ms=2.2, mew=0.4, elinewidth=0.5, capsize=0.8, capthick=0.4)
    ax.errorbar(female_x[i], female_mean[i],
                yerr=[[female_mean[i] - female_low[i]], [female_high[i] - female_mean[i]]],
                fmt=mks[i], color='#f04a4a', mfc='none', ms=2.2, mew=0.4, elinewidth=0.5, capsize=0.8, capthick=0.4)
ax.set_xticks(male_x + female_x)
ax.set_xticklabels(['1', '2', '3', '1', '2', '3'], fontsize=1.5)
ax.text(3.0, 180, 'Figure 2A: Male\np=0.002', fontsize=2.0, ha='center', va='center', color='#222222')
ax.text(7.5, 118, 'Figure 2B: Female\np=0.043', fontsize=2.0, ha='center', va='center', color='#f04a4a')
ax.plot([0.8, 4.8], [93.5, 93.5], color='#555555', lw=0.4, clip_on=False)
ax.plot([5.4, 9.4], [93.5, 93.5], color='#555555', lw=0.4, clip_on=False)
ax.text(2.8, 91.5, 'Male', fontsize=2.0, ha='center', va='top', clip_on=False)
ax.text(7.4, 91.5, 'Female', fontsize=2.0, ha='center', va='top', clip_on=False)
for s in ax.spines.values():
    s.set_color('#888888')
ftext(75, 418, 'Interval Plot - Comparison of Human Height', fontsize=2.9)

# ---------------- N: iris 2x2 violins
iris_cols = ['#b5a673', '#84dcc6', '#f26430']
iris_panels = [
    ((160, 421, 210.7, 457.7), [setosa_sl, versicolor_sl, virginica_sl], (4.0, 8.3), 'Sepal.Length'),
    ((216.7, 421, 268.3, 457.7), [setosa_sw, versicolor_sw, virginica_sw], (1.8, 4.5), 'Sepal.Width'),
    ((160, 461.7, 210.7, 496.7), [setosa_pl, versicolor_pl, virginica_pl], (0.5, 7.3), 'Petal.Length'),
    ((216.7, 461.7, 268.3, 496.7), [setosa_pw, versicolor_pw, virginica_pw], (-0.1, 2.8), 'Petal.Width'),
]
for (x0, y0, x1, y1), dsets, yl, nm in iris_panels:
    ax = add_ax(x0, y0, x1, y1)
    vp = ax.violinplot(dsets, positions=[1, 2, 3], widths=0.75, showextrema=False)
    for b, c in zip(vp['bodies'], iris_cols):
        b.set_facecolor(c)
        b.set_edgecolor('#444444')
        b.set_linewidth(0.25)
        b.set_alpha(0.95)
    for k, d in enumerate(dsets):
        jx = ((np.arange(len(d)) * 3) % 7 - 3) * 0.03
        ax.scatter(k + 1 + jx, d, s=0.25, color='#222222', lw=0, zorder=3)
    ax.set_xlim(0.4, 3.6)
    ax.set_ylim(*yl)
    ax.grid(axis='y', color='#e3e3e3', lw=0.3)
    ax.set_axisbelow(True)
    ax.set_xticks([1, 2, 3])
    ax.set_xticklabels(['setosa', 'versicolor', 'virginica'], fontsize=1.2)
    ax.tick_params(labelsize=1.2, length=0.6)
    ax.set_ylabel(nm, fontsize=1.3, labelpad=0.5)
    for s in ax.spines.values():
        s.set_color('#bbbbbb')

# ---------------- O: half violins meat
meat_data = [ground_beef, ham, bacon, sirloin, round_steak]
meat_cols = ['#3d8fc6', '#0b7d6b', '#a47c70', '#f23c1c', '#f3a62a']
ax = add_ax(299, 428.3, 406, 490)
ax.set_xlim(0.6, 5.72)
ax.set_ylim(0, 10)
for yv in range(1, 10, 2):
    ax.axhline(yv, color='#cccccc', lw=0.3, linestyle=(0, (3, 3)), zorder=0)
for yv in range(2, 10, 2):
    ax.axhline(yv, color='#dddddd', lw=0.3, zorder=0)
xo = np.arange(1, 6)
vp = ax.violinplot(meat_data, positions=xo, widths=1.15, showextrema=False, side='high', bw_method=0.35)
for b, c in zip(vp['bodies'], meat_cols):
    b.set_facecolor(c)
    b.set_edgecolor(c)
    b.set_alpha(0.95)
    b.set_linewidth(0.3)
for k, d in enumerate(meat_data):
    ax.hlines(d, xo[k] - 0.22, xo[k] - 0.02, color='#8a8a8a', lw=0.25)
    ax.scatter(xo[k], np.median(d), s=0.8, color='k', lw=0, zorder=4)
ax.set_xticks(xo)
ax.set_xticklabels(meats, fontsize=1.6)
ax.set_yticks(range(0, 11, 2))
ax.set_ylabel('Price per Pound', fontsize=1.8)
for s in ax.spines.values():
    s.set_color('#aaaaaa')

# ---------------- P: horizontal boxes meat
ax = add_ax(448, 425, 536, 493)
ax.set_xlim(0, 10)
ax.set_ylim(0.55, 5.43)
for xv in range(0, 11, 2):
    ax.axvline(xv, color='#c8c8c8', lw=0.4, zorder=0)
draw_boxes(ax, meat_data, [1, 2, 3, 4, 5], ['#8db4e8'], widths=0.4, orientation='horizontal',
           lw=0.35, edges=['#4a7ac0'], wcolor='#555555', med='#333333', flier_ms=0.9)
ax.set_yticks([1, 2, 3, 4, 5])
ax.set_yticklabels(meats, fontsize=1.6)
ax.set_xticks(range(0, 11, 2))
ax.tick_params(length=0)
for s in ax.spines.values():
    s.set_visible(False)

# ---------------- Q: ridgeline
ax = add_ax(43, 548, 103, 642)
ypos = np.arange(11, -1, -1)
for yv in ypos:
    ax.axhline(yv, color='#e3e3e3', lw=0.3, zorder=0)
vb = ax.violinplot(temp_low, positions=ypos, widths=1.1, orientation='horizontal', side='high',
                   showextrema=False, bw_method=0.45)
for b in vb['bodies']:
    b.set_facecolor('#6d9dd2')
    b.set_edgecolor('#3c6ea8')
    b.set_linewidth(0.2)
    b.set_alpha(0.9)
vr = ax.violinplot(temp_high, positions=ypos, widths=0.9, orientation='horizontal', side='low',
                   showextrema=False, bw_method=0.45)
for b in vr['bodies']:
    b.set_facecolor('#e41010')
    b.set_edgecolor('#b00000')
    b.set_linewidth(0.2)
    b.set_alpha(0.95)
ax.set_xlim(25.6, 91.5)
ax.set_ylim(-0.6, 11.48)
ax.set_yticks(ypos)
ax.set_yticklabels(months, fontsize=1.5)
ax.tick_params(axis='y', right=True, labelright=True, length=0.8)
ax.set_xticks(range(30, 91, 10))
ax.tick_params(axis='x', labelsize=1.5)
for s in ax.spines.values():
    s.set_color('#999999')

# ---------------- R: Madison
ax = add_ax(160, 557, 265, 627)
xr = np.arange(1, len(madison_years) + 1)
for xv in xr:
    ax.axvline(xv + 0.5, color='#e6e6e6', lw=0.3, zorder=0)
ax.vlines(xr, madison_min, madison_max, color='#f7a238', lw=2.0, linestyles=(0, (0.45, 0.55)), zorder=2)
ax.hlines(madison_max, xr - 0.32, xr + 0.32, color='#c8651e', lw=0.6, zorder=3)
ax.hlines(madison_min, xr - 0.32, xr + 0.32, color='#c8651e', lw=0.6, zorder=3)
ax.hlines(madison_mean, xr - 0.32, xr + 0.32, color='#e89a5a', lw=0.5, zorder=3)
ax.axhline(np.mean(madison_mean), color='#bbbbbb', lw=0.3, zorder=1)
ax.text(11.6, np.mean(madison_mean), 'Mean', fontsize=1.6, va='center', ha='left', clip_on=False)
ax.set_xlim(0.6, 11.4)
ax.set_ylim(16.5, 90.5)
ax.set_yticks([20, 40, 60, 80])
ax.set_xticks(xr)
ax.set_xticklabels(madison_years, fontsize=1.5)
ax.set_ylabel('Temperature (F)', fontsize=1.7)
for s in ax.spines.values():
    s.set_color('#bbbbbb')
ftext(212, 553.5, 'Weather history for Madison, Fall (Sep, Oct, Nov)', fontsize=2.3)

# ---------------- S: monthly average temps
ax = add_ax(306, 550, 401, 627)
temp_colors = ['#b070e0', '#2a6fe0', '#14b4f0', '#55e030', '#d8e640', '#f2b320',
               '#f04a4a', '#f02a2a', '#e01414', '#a80000']
xs_t = np.arange(1, len(temp_cities) + 1)
for yv in range(20, 91, 10):
    ax.axhline(yv, color='#cfcfcf', lw=0.4, zorder=0)
for xv in xs_t:
    ax.axvline(xv, color='#eeeeee', lw=0.3, zorder=0)
for i in range(len(temp_cities)):
    ax.errorbar(xs_t[i], temp_mean[i], yerr=temp_std[i], fmt='s', color=temp_colors[i], ms=1.6,
                elinewidth=0.8, ecolor=mcolors.to_rgba(temp_colors[i], 0.45), capsize=0)
ax.set_xlim(0.3, 10.7)
ax.set_ylim(19.5, 91)
ax.set_yticks(range(20, 91, 10))
ax.set_xticks(xs_t)
ax.set_xticklabels(temp_cities, rotation=45, ha='right', rotation_mode='anchor', fontsize=1.5)
for s in ax.spines.values():
    s.set_color('#888888')
ax.legend(handles=[Line2D([], [], color=mcolors.to_rgba('#b070e0', 0.5), lw=0.8, label='Max/Min (STD)'),
                   Line2D([], [], color='#b070e0', marker='s', ms=1.6, lw=0, label='Mean')],
          loc='upper right', fontsize=1.4, frameon=True, fancybox=False, edgecolor='#aaaaaa',
          handlelength=1.0, borderpad=0.3, labelspacing=0.2).get_frame().set_linewidth(0.3)
ftext(354, 546, 'Monthly Average Temperatures', fontsize=3, fontweight='bold')

# ---------------- T: raincloud
ax = add_ax(452, 558, 544, 622)
yt = np.array([5, 4, 3, 2, 1])
for xv in range(2, 11, 2):
    ax.axvline(xv, color='#cfcfcf', lw=0.4, zorder=0)
for xv in range(1, 11, 2):
    ax.axvline(xv, color='#dcdcdc', lw=0.3, linestyle=(0, (3, 3)), zorder=0)
vp = ax.violinplot(meat_data, positions=yt, widths=0.85, orientation='horizontal', side='high',
                   showextrema=False, bw_method=0.35)
for b, c in zip(vp['bodies'], meat_cols):
    b.set_facecolor(c)
    b.set_edgecolor(c)
    b.set_alpha(0.9)
    b.set_linewidth(0.2)
for k, d in enumerate(meat_data):
    jy = ((np.arange(len(d)) * 3) % 5) * 0.04
    ax.scatter(d, yt[k] - 0.04 - jy, s=1.0, marker='|', color=meat_cols[k], lw=0.3, zorder=3)
    ax.scatter(np.median(d), yt[k] + 0.05, s=0.8, color='k', lw=0, zorder=4)
ax.set_xlim(-0.1, 11)
ax.set_ylim(0.4, 5.88)
ax.set_yticks(yt)
ax.set_yticklabels(meats, fontsize=1.6, fontweight='bold')
ax.set_xticks(range(2, 11, 2))
ax.tick_params(labelsize=1.6)
for s in ax.spines.values():
    s.set_color('#555555')

fig.savefig('out.png', dpi=100, facecolor='white')
